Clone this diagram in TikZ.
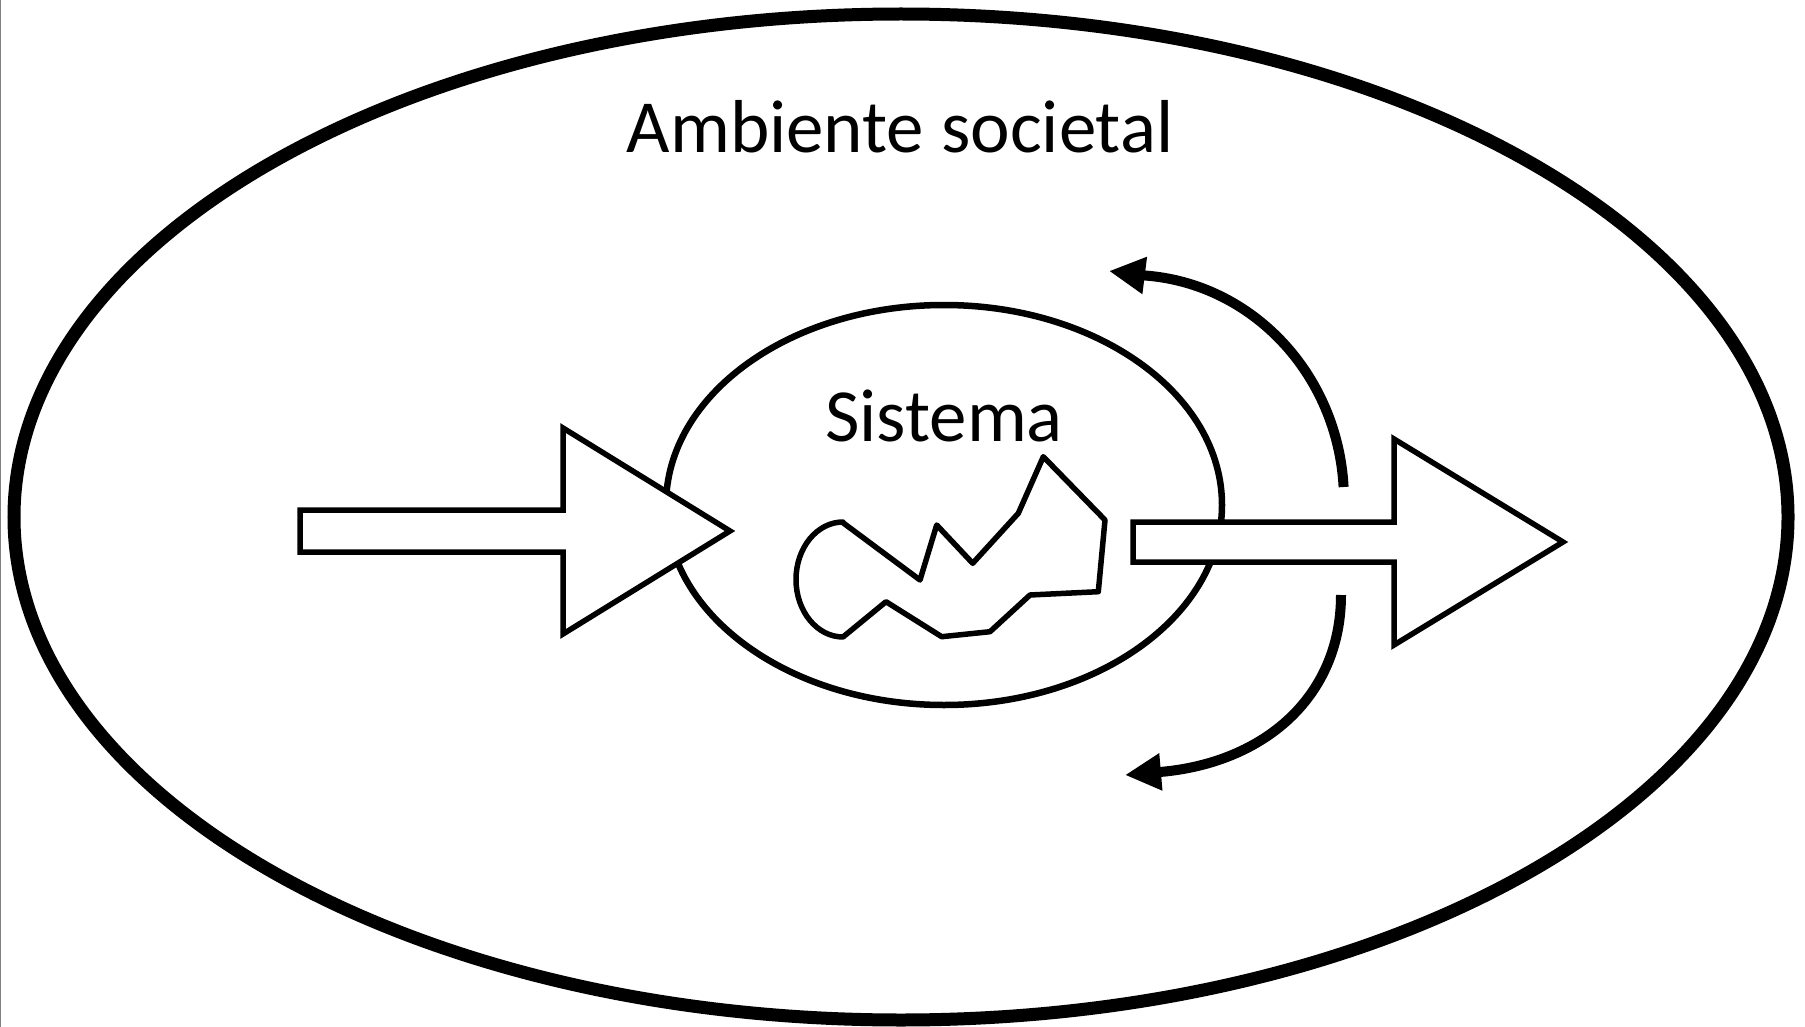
\documentclass[tikz,border=0pt]{standalone}
\usepackage{fontspec}
\setmainfont{Carlito}
\usetikzlibrary{arrows.meta}
\begin{document}
\begin{tikzpicture}[x=1pt,y=-1pt,
  outerline/.style={line width=13pt},
  innerline/.style={line width=6.5pt},
  blockarrow/.style={line width=5.5pt, fill=white, line join=miter},
  blobline/.style={line width=5.5pt, line join=round},
  curvearrow/.style={line width=10pt, -{Triangle[length=36pt,width=35pt]}},
  label/.style={font=\fontsize{75}{90}\selectfont, anchor=base, inner sep=0pt}]
\useasboundingbox (0,0) rectangle (1805,1027);
\fill[white] (0,0) rectangle (1805,1027);
% thin left edge line
\draw[line width=1.2pt, gray] (0.6,0) -- (0.6,1027);
% outer ellipse
\draw[outerline] (901,517) ellipse [x radius=887, y radius=503];
% inner ellipse
\draw[innerline] (944,505) ellipse [x radius=278, y radius=200];
% blob
\draw[blobline, fill=white] (842,522) -- (920,580) -- (936.7,525) -- (972.7,563.3)
  -- (1018.3,513.3) -- (1043.3,456.7) -- (1105,520) -- (1098.3,591.7)
  -- (1030,595) -- (990,631.7) -- (941.7,636.7) -- (886,601.7) -- (843,637)
  arc [start angle=90, end angle=270, x radius=47, y radius=57.5] -- cycle;
% input arrow
\draw[blockarrow] (300,510) -- (563,510) -- (563,428) -- (730,531) -- (563,634)
  -- (563,552) -- (300,552) -- cycle;
% output arrow
\draw[blockarrow] (1133,522) -- (1394,522) -- (1394,439) -- (1563,542) -- (1394,645)
  -- (1394,562) -- (1133,562) -- cycle;
% feedback arrows
\coordinate (u0) at (1343.6,487);
\coordinate (utip) at (1109,271);
\coordinate (l0) at (1341,595);
\coordinate (l3) at (1160,772);
\coordinate (ltip) at (1125,775);
\draw[curvearrow] (u0) arc [start angle=-3.3, end angle=-86, x radius=214, y radius=225] -- (utip);
\draw[curvearrow] (l0) .. controls (1341,696) and (1265,763) .. (l3) -- (ltip);
% labels
\node[label] (amb) at (900,153) {Ambiente societal};
\node[label] (sis) at (944,441) {Sistema};
\end{tikzpicture}
\end{document}
